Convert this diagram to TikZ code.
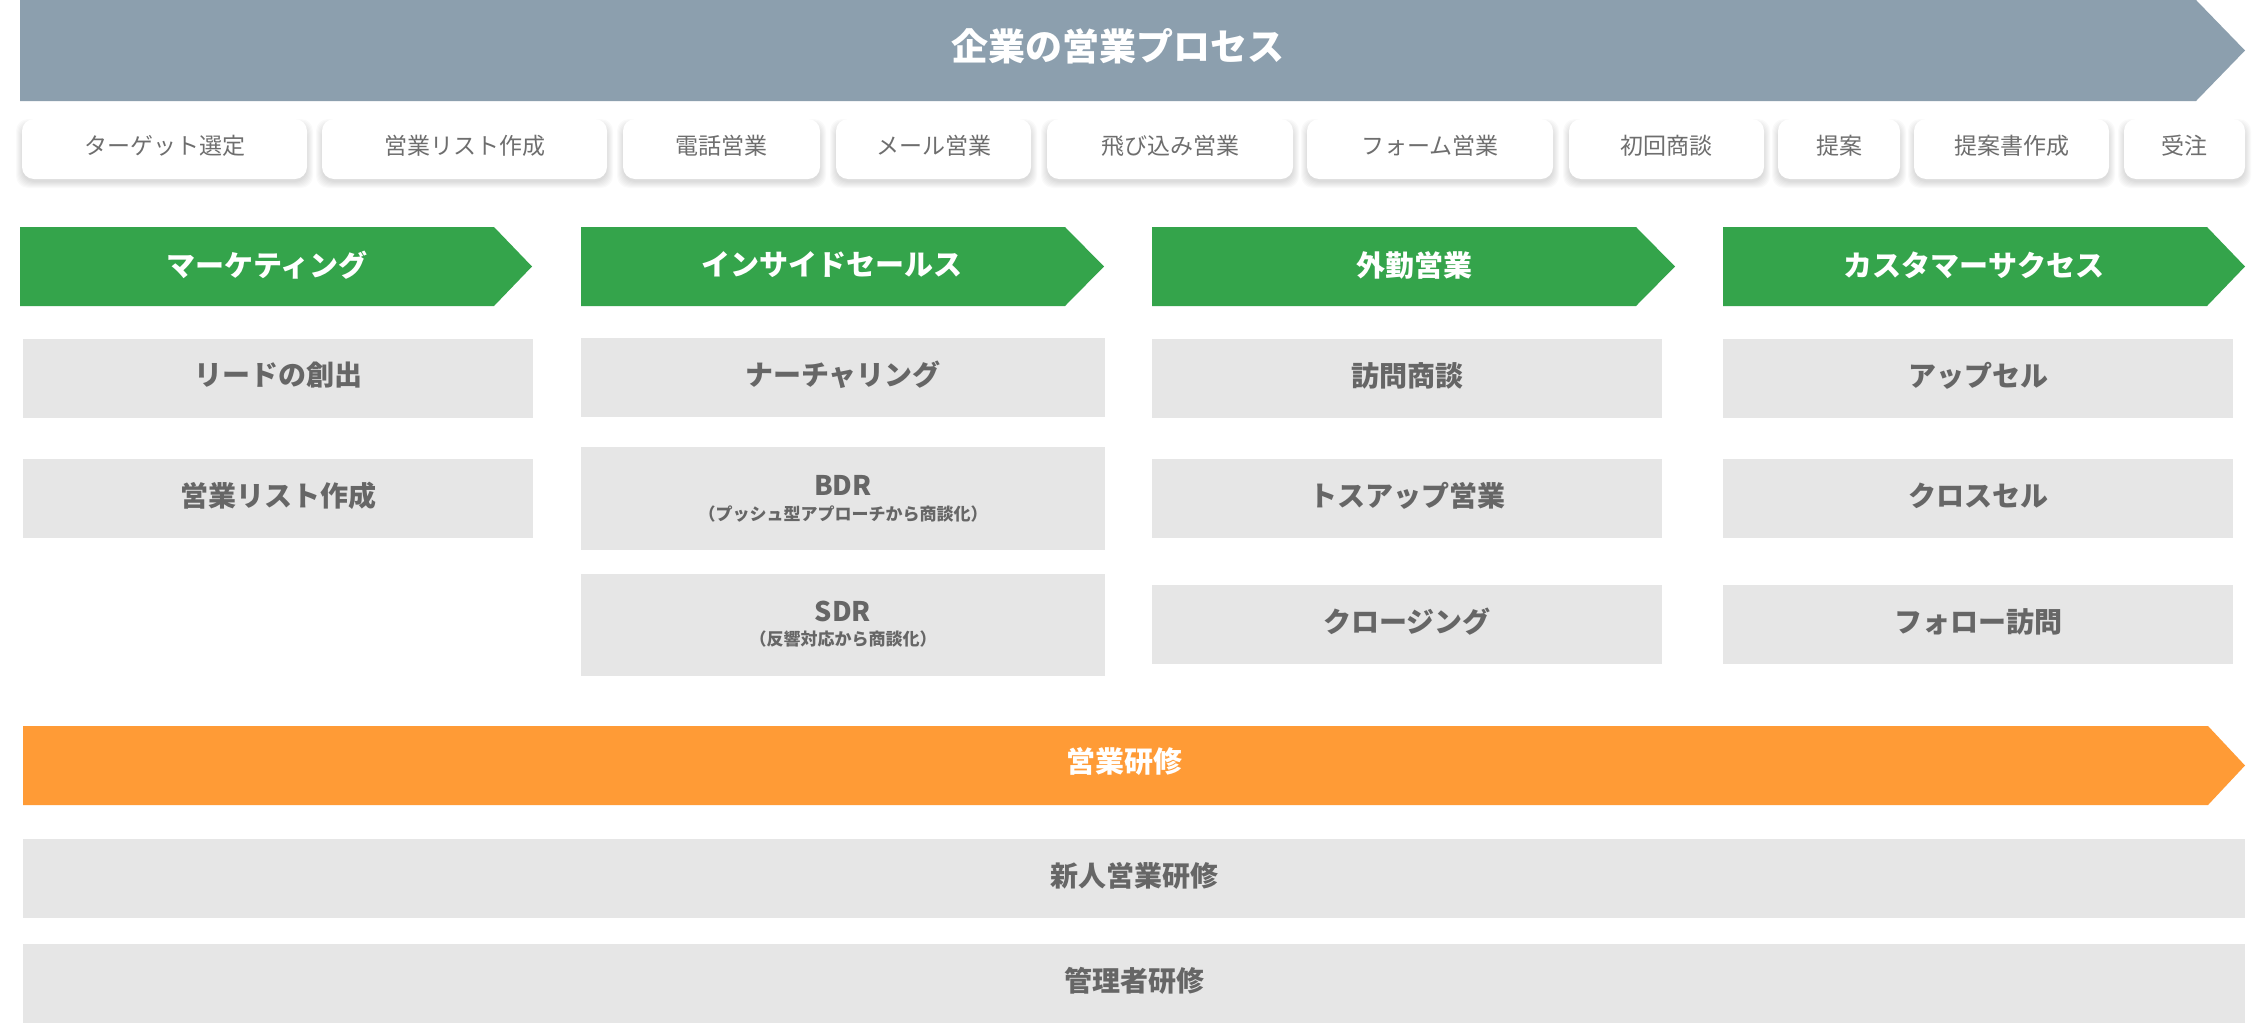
\documentclass[tikz,border=0pt]{standalone}
\usepackage{fontspec}
\setmainfont{Noto Sans CJK JP}
\definecolor{banner}{HTML}{8C9FAE}
\definecolor{grn}{HTML}{34A44B}
\definecolor{org}{HTML}{FF9B36}
\definecolor{boxgray}{HTML}{E6E6E6}
\definecolor{txtgray}{HTML}{666666}
\definecolor{stxt}{HTML}{6E6E6E}
\newcommand\liftup[1]{\raisebox{3pt}[\height][\depth]{#1}}
\newcommand\arrowband[6]{% x1,y1,x2,tip,y2,color
  \fill[#6] (#1,#2) -- (#3,#2) -- (#4,{(#2+#5)/2}) -- (#3,#5) -- (#1,#5) -- cycle;}
\newcommand\procbox[4]{% name,cx,w,text
  \foreach \i in {1,...,7}{%
    \fill[black,opacity=0.02,rounded corners=12pt] ({#2-#3/2-\i+1},{126-\i}) rectangle ({#2+#3/2+\i-1},{181+\i});}
  \node[sbox, minimum width=#3pt] (#1) at (#2,149) {\liftup{#4}};}
\begin{document}
\begin{tikzpicture}[x=1pt,y=-1pt,
  gbox/.style={fill=boxgray, inner sep=0pt, text=txtgray, font=\bfseries\fontsize{28}{34}\selectfont},
  sbox/.style={fill=white, rounded corners=12pt, inner sep=0pt, minimum height=60pt, text=stxt, font=\fontsize{23}{28}\selectfont},
  hlabel/.style={text=white, font=\bfseries\fontsize{29}{34}\selectfont},
]
\useasboundingbox (0,0) rectangle (2267,1023);
\fill[white] (0,0) rectangle (2267,1023);

% top banner
\arrowband{20}{0}{2196}{2245}{101}{banner}
\node[hlabel, font=\bfseries\fontsize{37}{44}\selectfont] (title) at (1118,46) {企業の営業プロセス};

% process steps
\procbox{s1}{164.5}{285}{ターゲット選定}
\procbox{s2}{464.5}{285}{営業リスト作成}
\procbox{s3}{721.5}{197}{電話営業}
\procbox{s4}{933.5}{195}{メール営業}
\procbox{s5}{1170}{246}{飛び込み営業}
\procbox{s6}{1430}{246}{フォーム営業}
\procbox{s7}{1666.5}{195}{初回商談}
\procbox{s8}{1839}{122}{提案}
\procbox{s9}{2011.5}{195}{提案書作成}
\procbox{s10}{2184.5}{121}{受注}

% green headers
\arrowband{20}{227}{494}{532}{306}{grn}
\arrowband{581}{227}{1065}{1104}{306}{grn}
\arrowband{1152}{227}{1636}{1675}{306}{grn}
\arrowband{1723}{227}{2207}{2245}{306}{grn}
\node[hlabel] (h1) at (267,265) {マーケティング};
\node[hlabel] (h2) at (832,265) {インサイドセールス};
\node[hlabel] (h3) at (1414,265) {外勤営業};
\node[hlabel] (h4) at (1974,265) {カスタマーサクセス};

% column 1
\node[gbox, minimum width=510pt, minimum height=79pt] (c11) at (278,378.5) {\liftup{リードの創出}};
\node[gbox, minimum width=510pt, minimum height=79pt] (c12) at (278,498.5) {\liftup{営業リスト作成}};
% column 2
\node[gbox, minimum width=524pt, minimum height=79pt] (c21) at (843,377.5) {\liftup{ナーチャリング}};
\node[gbox, minimum width=524pt, minimum height=103pt] (c22) at (843,498.5) {};
\node[text=txtgray, font=\bfseries\fontsize{27}{32}\selectfont, inner sep=0pt] (c22t) at (843,485) {BDR};
\node[text=txtgray, font=\bfseries\fontsize{17}{20}\selectfont, inner sep=0pt] (c22s) at (843,514) {（プッシュ型アプローチから商談化）};
\node[gbox, minimum width=524pt, minimum height=102pt] (c23) at (843,625) {};
\node[text=txtgray, font=\bfseries\fontsize{27}{32}\selectfont, inner sep=0pt] (c23t) at (843,611) {SDR};
\node[text=txtgray, font=\bfseries\fontsize{17}{20}\selectfont, inner sep=0pt] (c23s) at (843,639) {（反響対応から商談化）};
% column 3
\node[gbox, minimum width=510pt, minimum height=79pt] (c31) at (1407,378.5) {\liftup{訪問商談}};
\node[gbox, minimum width=510pt, minimum height=79pt] (c32) at (1407,498.5) {\liftup{トスアップ営業}};
\node[gbox, minimum width=510pt, minimum height=79pt] (c33) at (1407,624.5) {\liftup{クロージング}};
% column 4
\node[gbox, minimum width=510pt, minimum height=79pt] (c41) at (1978,378.5) {\liftup{アップセル}};
\node[gbox, minimum width=510pt, minimum height=79pt] (c42) at (1978,498.5) {\liftup{クロスセル}};
\node[gbox, minimum width=510pt, minimum height=79pt] (c43) at (1978,624.5) {\liftup{フォロー訪問}};

% training
\arrowband{23}{726}{2208}{2245}{805}{org}
\node[hlabel] (tr) at (1124,762) {営業研修};
\node[gbox, minimum width=2222pt, minimum height=79pt] (tr1) at (1134,878.5) {\liftup{新人営業研修}};
\node[gbox, minimum width=2222pt, minimum height=79pt] (tr2) at (1134,983.5) {\liftup{管理者研修}};
\end{tikzpicture}
\end{document}
